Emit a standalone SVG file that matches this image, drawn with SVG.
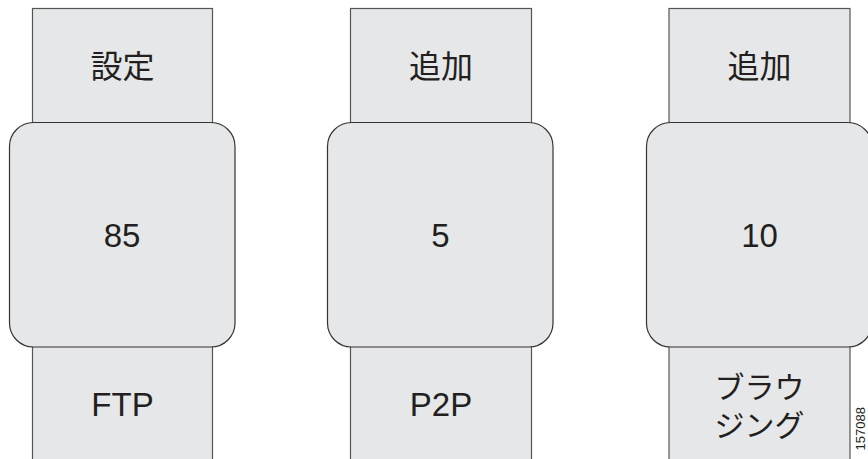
<svg xmlns="http://www.w3.org/2000/svg" width="868" height="459" viewBox="0 0 868 459">
<style>
.tab{fill:#e6e7e8;stroke:#555;stroke-width:1.2}
.box{fill:#e6e7e8;stroke:#333;stroke-width:1.2}
.t{font-family:"Liberation Sans","Noto Sans CJK JP",sans-serif;font-size:33px;fill:#231f20;text-anchor:middle}
.j{font-family:"Noto Sans CJK JP","Liberation Sans",sans-serif;font-size:32px;fill:#231f20;text-anchor:middle}
.j2{font-family:"Noto Sans CJK JP","Liberation Sans",sans-serif;font-size:30px;fill:#231f20;text-anchor:middle}
.id{font-family:"Liberation Sans",sans-serif;font-size:13px;fill:#231f20;text-anchor:end}
</style>
<rect width="868" height="459" fill="#fff"/>
<g id="col1">
<rect class="tab" x="32.5" y="8.5" width="180" height="140"/>
<rect class="tab" x="32.5" y="320" width="180" height="150"/>
<rect class="box" x="9.5" y="122.5" width="225.5" height="224.5" rx="24" ry="24"/>
<text class="j" x="122.5" y="78">設定</text>
<text class="t" x="122" y="247">85</text>
<text class="t" x="122.5" y="416">FTP</text>
</g>
<g id="col2">
<rect class="tab" x="350.5" y="8.5" width="181" height="140"/>
<rect class="tab" x="350.5" y="320" width="181" height="150"/>
<rect class="box" x="327.5" y="122.5" width="225.5" height="224.5" rx="24" ry="24"/>
<text class="j" x="441" y="78">追加</text>
<text class="t" x="440.5" y="247">5</text>
<text class="t" x="441" y="416">P2P</text>
</g>
<g id="col3">
<rect class="tab" x="669" y="8.5" width="181" height="140"/>
<rect class="tab" x="669" y="320" width="181" height="150"/>
<rect class="box" x="646.5" y="122.5" width="225.5" height="224.5" rx="24" ry="24"/>
<text class="j" x="759.5" y="78">追加</text>
<text class="t" x="759.5" y="247">10</text>
<text class="j2" x="759.5" y="398">ブラウ</text>
<text class="j2" x="759.5" y="436">ジング</text>
</g>
<g id="connectors"></g>
<text class="id" transform="translate(865,407) rotate(-90)">157088</text>
</svg>
